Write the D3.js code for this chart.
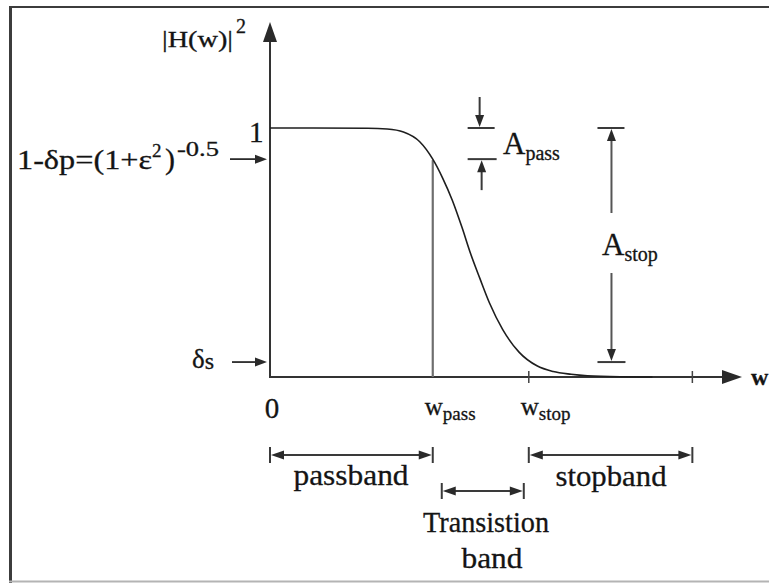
<!DOCTYPE html>
<html>
<head>
<meta charset="utf-8">
<script src="https://cdn.jsdelivr.net/npm/d3@7/dist/d3.min.js"></script>
<style>
  html, body { margin: 0; padding: 0; background: #fff; }
  svg { display: block; }
  text { font-family: "Liberation Serif", "Times New Roman", serif; fill: #141414; stroke: #141414; stroke-width: 0.3; }
</style>
</head>
<body>
<svg id="chart" width="769" height="583"></svg>
<script>
// Squared magnitude response of a low-pass filter (frequency normalised to w_pass = 1)
const curveW = [0, 0.6, 0.72, 0.82, 0.92, 1.0, 1.06, 1.12, 1.18, 1.23, 1.29, 1.35, 1.43, 1.53, 1.64, 1.74, 1.85, 1.95, 2.15, 2.35];
const curveH = [1, 0.999, 0.996, 0.984, 0.945, 0.875, 0.80, 0.71, 0.60, 0.50, 0.395, 0.295, 0.19, 0.10, 0.045, 0.022, 0.011, 0.005, 0.001, 0];

// Frequency marks: origin, passband edge, stopband edge, end of shown stopband
const freqMarks = [0, 1, 1.59, 2.595];
const freqLabels = ["0", "pass", "stop"];

// Response levels: unity, passband ripple floor (1 - δp), stopband level δs
const levelValues = [1, 0.875, 0.06];

// Band names
const bandNames = ["passband", "Transistion", "band", "stopband"];

const svg = d3.select("#chart");

const x = d3.scaleLinear().domain([0, 2.9]).range([270, 742]);
const y = d3.scaleLinear().domain([0, 1]).range([377, 128]);

const [w0, wPass, wStop, wEnd] = freqMarks;
const [hOne, hPass, hStop] = levelValues;

// ---------- frame ----------
svg.append("line").attr("x1", 9).attr("x2", 769).attr("y1", 7).attr("y2", 7)
  .attr("stroke", "#3c3c3c").attr("stroke-width", 2);
svg.append("line").attr("x1", 10.5).attr("x2", 10.5).attr("y1", 6).attr("y2", 583)
  .attr("stroke", "#3c3c3c").attr("stroke-width", 3);
svg.append("line").attr("x1", 9).attr("x2", 769).attr("y1", 581.5).attr("y2", 581.5)
  .attr("stroke", "#b4b4b4").attr("stroke-width", 2);

// ---------- helpers ----------
const ink = "#2a2a2a";
function head(tx, ty, dir, len, half) {
  // filled triangular arrowhead with its tip at (tx, ty)
  let p;
  if (dir === "right") p = [[tx, ty], [tx - len, ty - half], [tx - len, ty + half]];
  if (dir === "left")  p = [[tx, ty], [tx + len, ty - half], [tx + len, ty + half]];
  if (dir === "up")    p = [[tx, ty], [tx - half, ty + len], [tx + half, ty + len]];
  if (dir === "down")  p = [[tx, ty], [tx - half, ty - len], [tx + half, ty - len]];
  svg.append("path").attr("d", "M" + p.map(d => d.join(",")).join("L") + "Z").attr("fill", ink);
}
function seg(x1, y1, x2, y2, color, width) {
  svg.append("line").attr("x1", x1).attr("y1", y1).attr("x2", x2).attr("y2", y2)
    .attr("stroke", color || ink).attr("stroke-width", width || 2);
}

// ---------- axes ----------
const yTop = y(1.426);
seg(x(0), y(0) + 1, x(0), yTop + 18, "#333", 2);
head(x(0), yTop, "up", 20, 7);
seg(x(0) - 1, y(0), x(2.9) - 18, y(0), "#333", 2);
head(x(2.9), y(0), "right", 20, 7);

// frequency ticks at w_stop and end of band
[wStop, wEnd].forEach(v => seg(x(v), y(0) - 6, x(v), y(0) + 6, "#444", 1.5));

// vertical drop at w_pass
seg(x(wPass), y(hPass) + 1, x(wPass), y(0), "#6e6e6e", 2.2);

// ---------- response curve ----------
const pts = curveW.map((w, i) => [x(w), y(curveH[i])]);
svg.append("path")
  .attr("d", d3.line().curve(d3.curveMonotoneX)(pts))
  .attr("fill", "none").attr("stroke", "#1e1e1e").attr("stroke-width", 1.6);

// ---------- level pointers on the y axis ----------
seg(230, y(hPass), x(0) - 12, y(hPass), ink, 1.8);
head(x(0) - 3, y(hPass), "right", 12, 4.5);
seg(232, y(hStop), x(0) - 12, y(hStop), ink, 1.8);
head(x(0) - 3, y(hStop), "right", 12, 4.5);

// ---------- A_pass marker ----------
const ax = x(1.288);
seg(ax - 12, y(hOne), ax + 15, y(hOne), "#3a3a3a", 2);
seg(ax - 12, y(hPass), ax + 17, y(hPass), "#3a3a3a", 2);
seg(ax, y(hOne) - 31, ax, y(hOne) - 10, "#3a3a3a", 2);
head(ax, y(hOne) - 1, "down", 12, 4.5);
seg(ax + 2, y(hPass) + 31, ax + 2, y(hPass) + 10, "#3a3a3a", 2);
head(ax + 2, y(hPass) + 1, "up", 12, 4.5);

// ---------- A_stop marker ----------
const sx = x(2.098);
seg(sx - 14, y(hOne), sx + 13, y(hOne), "#3a3a3a", 2);
seg(sx - 14, y(hStop), sx + 14, y(hStop), "#3a3a3a", 2);
seg(sx, y(hOne) + 10, sx, 213, "#555", 2);
head(sx, y(hOne) + 1, "up", 12, 4.5);
seg(sx, 273, sx, y(hStop) - 10, "#555", 2);
head(sx, y(hStop) - 1, "down", 12, 4.5);

// ---------- band extent arrows ----------
function bandArrow(x1, x2, yy) {
  seg(x1, yy - 8, x1, yy + 8, "#3a3a3a", 2);
  seg(x2, yy - 8, x2, yy + 8, "#3a3a3a", 2);
  seg(x1 + 8, yy, x2 - 8, yy, "#3a3a3a", 1.8);
  head(x1 + 1, yy, "left", 13, 4.5);
  head(x2 - 1, yy, "right", 13, 4.5);
}
bandArrow(x(w0), x(wPass), 455);
bandArrow(x(wPass) + 9, x(wStop) - 5, 491);
bandArrow(x(wStop), x(wEnd), 455);

// ---------- text ----------
function label(tx, ty, str, size, opts) {
  const t = svg.append("text").attr("x", tx).attr("y", ty).attr("font-size", size).text(str);
  if (opts && opts.anchor) t.attr("text-anchor", opts.anchor);
  if (opts && opts.len) t.attr("textLength", opts.len).attr("lengthAdjust", "spacingAndGlyphs");
  if (opts && opts.weight) t.attr("font-weight", opts.weight);
  return t;
}

// y-axis title |H(w)|^2
const ht = svg.append("text").attr("x", 162).attr("y", 47).attr("font-size", 24);
ht.append("tspan").text("|H(w)|").attr("textLength", 71).attr("lengthAdjust", "spacingAndGlyphs");
ht.append("tspan").attr("x", 236).attr("dy", -14).attr("font-size", 20).text("2");

// x-axis title
label(751, 385, "w", 24, { weight: "bold" });

// level labels
label(249, 142, "1", 29);
const lp = svg.append("text").attr("x", 17).attr("y", 169).attr("font-size", 28);
lp.append("tspan").text("1-δp=(1+ε").attr("textLength", 135).attr("lengthAdjust", "spacingAndGlyphs");
lp.append("tspan").attr("x", 152).attr("dy", -12).attr("font-size", 19).text("2");
lp.append("tspan").attr("x", 165).attr("dy", 12).attr("font-size", 30).text(")");
lp.append("tspan").attr("x", 177).attr("dy", -13).attr("font-size", 20).text("-0.5")
  .attr("textLength", 42).attr("lengthAdjust", "spacingAndGlyphs");

const ls = svg.append("text").attr("x", 192).attr("y", 368).attr("font-size", 27);
ls.append("tspan").text("δ");
ls.append("tspan").attr("font-size", 24).attr("dy", 1).text("s");

// frequency labels
label(x(w0) + 2, 418, freqLabels[0], 29, { anchor: "middle" });
[[wPass, freqLabels[1]], [wStop, freqLabels[2]]].forEach(([v, sub]) => {
  const t = svg.append("text").attr("x", x(v) - 8).attr("y", 415).attr("font-size", 25);
  t.append("tspan").text("w");
  t.append("tspan").attr("font-size", 19).attr("dy", 5).text(sub);
});

// attenuation labels
const apl = svg.append("text").attr("x", 503).attr("y", 154).attr("font-size", 31);
apl.append("tspan").text("A");
apl.append("tspan").attr("font-size", 20).attr("dy", 6).text("pass");
const asl = svg.append("text").attr("x", 602).attr("y", 255).attr("font-size", 31);
asl.append("tspan").text("A");
asl.append("tspan").attr("font-size", 20).attr("dy", 6).text("stop");

// band names
label(351, 485, bandNames[0], 30, { anchor: "middle", len: 115 });
label(486, 532, bandNames[1], 29, { anchor: "middle", len: 126 });
label(492, 568, bandNames[2], 30, { anchor: "middle", len: 61 });
label(611, 486, bandNames[3], 30, { anchor: "middle", len: 111 });
</script>
</body>
</html>
